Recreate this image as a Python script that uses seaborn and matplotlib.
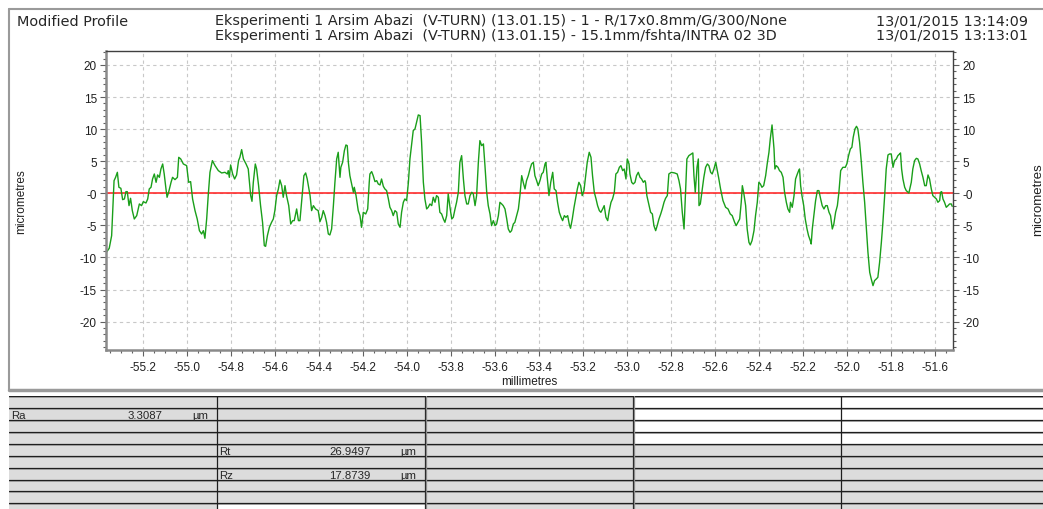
import numpy as np
import pandas as pd
import matplotlib
matplotlib.use("Agg")
import matplotlib.pyplot as plt
import seaborn as sns
from matplotlib.colors import ListedColormap
from matplotlib.lines import Line2D
from matplotlib.ticker import MultipleLocator

# profile: position (mm) and height (micrometres)
profile_mm = [
    -55.370, -55.355, -55.344, -55.333, -55.326, -55.318, -55.311, -55.302, -55.294, -55.286,
    -55.279, -55.273, -55.265, -55.258, -55.250, -55.241, -55.230, -55.218, -55.208, -55.200,
    -55.188, -55.180, -55.173, -55.165, -55.158, -55.150, -55.142, -55.135, -55.127, -55.120,
    -55.112, -55.105, -55.097, -55.092, -55.085, -55.074, -55.067, -55.056, -55.045, -55.039,
    -55.030, -55.018, -55.003, -54.994, -54.985, -54.976, -54.965, -54.955, -54.945, -54.935,
    -54.927, -54.920, -54.912, -54.905, -54.897, -54.886, -54.874, -54.859, -54.844, -54.829,
    -54.818, -54.814, -54.809, -54.803, -54.794, -54.785, -54.776, -54.767, -54.761, -54.753,
    -54.745, -54.733, -54.723, -54.712, -54.706, -54.700, -54.691, -54.685, -54.676, -54.667,
    -54.658, -54.650, -54.644, -54.636, -54.627, -54.617, -54.609, -54.602, -54.594, -54.586,
    -54.579, -54.571, -54.564, -54.556, -54.549, -54.539, -54.530, -54.521, -54.514, -54.503,
    -54.495, -54.488, -54.480, -54.470, -54.462, -54.455, -54.442, -54.435, -54.427, -54.417,
    -54.405, -54.397, -54.389, -54.382, -54.374, -54.367, -54.359, -54.352, -54.344, -54.336,
    -54.329, -54.321, -54.314, -54.306, -54.302, -54.294, -54.286, -54.279, -54.273, -54.268,
    -54.261, -54.253, -54.245, -54.241, -54.233, -54.223, -54.215, -54.208, -54.200, -54.189,
    -54.180, -54.173,
    -54.170, -54.162, -54.155, -54.147, -54.139, -54.132, -54.124, -54.117, -54.109, -54.102,
    -54.094, -54.086, -54.079, -54.071, -54.064, -54.056, -54.048, -54.041, -54.033, -54.026,
    -54.018, -54.011, -54.003, -53.995, -53.988, -53.980, -53.973, -53.965, -53.958, -53.950,
    -53.942, -53.935, -53.927, -53.920, -53.912, -53.905, -53.897, -53.889, -53.882, -53.874,
    -53.867, -53.859, -53.852, -53.844, -53.836, -53.829, -53.821, -53.814, -53.806, -53.798,
    -53.791, -53.783, -53.776, -53.768, -53.761, -53.753, -53.745, -53.738, -53.730, -53.723,
    -53.715, -53.707, -53.700, -53.692, -53.685, -53.677, -53.670, -53.662, -53.654, -53.647,
    -53.639, -53.632, -53.624, -53.617, -53.609, -53.601, -53.594, -53.586, -53.579, -53.571,
    -53.564, -53.556, -53.548, -53.541, -53.533, -53.526, -53.518, -53.511, -53.503, -53.495,
    -53.488, -53.480, -53.473, -53.465, -53.458, -53.450, -53.442, -53.435, -53.427, -53.420,
    -53.412, -53.405, -53.397, -53.389, -53.382, -53.374, -53.370, -53.364, -53.356, -53.348,
    -53.339, -53.332, -53.324, -53.317, -53.309, -53.301, -53.294, -53.286, -53.279, -53.271,
    -53.264, -53.258, -53.250, -53.242, -53.235, -53.227, -53.220, -53.212, -53.205, -53.197,
    -53.189, -53.182, -53.173, -53.165, -53.158, -53.150, -53.142, -53.135, -53.127, -53.120,
    -53.112, -53.105, -53.097, -53.089, -53.082, -53.074, -53.067, -53.059, -53.052, -53.044,
    -53.036, -53.029, -53.021, -53.014, -53.006, -53.000, -52.992, -52.988, -52.980, -52.973,
    -52.965, -52.958, -52.950, -52.942, -52.935, -52.927, -52.920,
    -52.917, -52.911, -52.901, -52.894, -52.886, -52.879, -52.871, -52.864, -52.856, -52.848,
    -52.841, -52.833, -52.826, -52.818, -52.811, -52.800, -52.785, -52.773, -52.765, -52.758,
    -52.750, -52.742, -52.736, -52.729, -52.720, -52.709, -52.702, -52.697, -52.691, -52.683,
    -52.677, -52.674, -52.668, -52.659, -52.652, -52.644, -52.636, -52.629, -52.621, -52.614,
    -52.606, -52.598, -52.592, -52.585, -52.576, -52.565, -52.553, -52.542, -52.532, -52.523,
    -52.512, -52.505, -52.497, -52.489, -52.482, -52.477, -52.471, -52.462, -52.455, -52.447,
    -52.441, -52.433, -52.424, -52.417, -52.409, -52.402, -52.395, -52.388, -52.380, -52.371,
    -52.364, -52.356, -52.350, -52.345, -52.342, -52.338, -52.333, -52.329, -52.323, -52.315,
    -52.308, -52.300, -52.292, -52.285, -52.277, -52.270, -52.262, -52.258, -52.250, -52.242,
    -52.235, -52.227, -52.221, -52.217, -52.212, -52.206, -52.198, -52.191, -52.183, -52.176,
    -52.168, -52.164, -52.159, -52.152, -52.144, -52.136, -52.129, -52.121, -52.114, -52.106,
    -52.098, -52.091, -52.083, -52.076, -52.068, -52.061, -52.053, -52.045, -52.038, -52.030,
    -52.020, -52.009, -52.002, -51.994, -51.986, -51.979, -51.973, -51.965, -51.958, -51.952,
    -51.944, -51.936, -51.929, -51.921, -51.914, -51.906, -51.898, -51.891, -51.883, -51.876,
    -51.868, -51.861, -51.853, -51.845, -51.838, -51.830, -51.823, -51.815, -51.808, -51.800,
    -51.792, -51.785, -51.777, -51.770, -51.762, -51.758, -51.753, -51.747, -51.739, -51.732,
    -51.720, -51.709, -51.702, -51.694, -51.686, -51.679, -51.671, -51.664, -51.656, -51.648,
    -51.641, -51.633, -51.626, -51.618, -51.611, -51.603, -51.595, -51.588, -51.580, -51.576,
    -51.571, -51.565, -51.558, -51.550, -51.542, -51.535, -51.527, -51.523,
]
profile_um = [
    -9.30, -8.57, -6.60, 1.97, 2.49, 3.27, 0.94, 0.78, -0.99, -0.88,
    0.26, 0.26, -1.92, -0.78, -2.70, -4.00, -3.48, -1.66, -1.92, -1.30,
    -1.51, -0.88, 0.68, 0.94, 2.23, 3.01, 1.71, 2.86, 2.49, 3.79,
    4.57, 3.01, 0.68, -0.62, 0.16, 1.71, 2.49, 2.13, 2.49, 5.61,
    5.35, 4.57, 4.31, 1.71, 1.82, -0.88, -2.70, -4.00, -5.82, -6.34,
    -5.82, -7.01, -4.00, -0.36, 3.27, 5.09, 4.31, 3.53, 3.17, 3.27,
    3.01, 3.53, 2.49, 4.42, 3.01, 2.23, 2.86, 5.09, 5.61, 6.81,
    5.35, 4.57, 3.79, -0.36, -1.25, 1.71, 4.57, 3.79, 1.19, -1.92,
    -4.52, -8.16, -8.26, -6.60, -5.30, -4.52, -4.00, -2.70, -0.36, 0.68,
    2.08, 1.19, -0.62, 1.19, -0.36, -1.92, -4.78, -4.26, -4.26, -2.44,
    -4.26, -4.26, -1.14, 2.75, 3.17, 2.23, -0.36, -2.70, -1.92, -2.44,
    -2.70, -4.42, -3.74, -2.70, -3.48, -4.52, -6.34, -6.49, -5.56, -1.92,
    1.71, 5.35, 6.39, 2.49, 4.05, 4.83, 6.65, 7.53, 7.43, 4.83,
    2.75, 1.45, 0.16, 0.94, -0.36, -2.70, -3.48, -5.30, -2.96, -3.22,
    -2.44, 1.71,
    3.01, 3.38, 2.75, 1.82, 1.97, 1.45, 1.30, 2.23, 1.09, 0.68,
    0.42, -0.88, -2.18, -2.70, -3.48, -2.70, -2.96, -4.78, -5.30, -2.96,
    -1.40, -0.88, -1.14, 1.71, 5.35, 7.69, 9.77, 10.03, 11.06, 12.21,
    12.10, 7.95, 1.71, -0.88, -2.44, -2.18, -1.66, -1.92, -0.62, -1.40,
    -0.36, -0.62, -2.96, -3.22, -4.00, -4.52, -3.48, -0.10, -2.18, -4.00,
    -3.74, -2.44, -1.40, 0.16, 4.83, 5.87, 2.23, -0.36, -1.66, -1.66,
    -0.36, 0.16, -0.10, -1.92, -0.36, 4.83, 8.21, 7.43, 7.69, 4.31,
    0.16, -1.92, -3.22, -5.04, -4.26, -5.04, -4.78, -3.48, -1.40, -1.66,
    -1.92, -2.44, -4.00, -5.56, -6.08, -5.82, -4.78, -4.52, -3.48, -2.44,
    -0.36, 2.75, 1.71, 0.68, 1.97, 2.75, 3.79, 4.57, 4.83, 2.75,
    1.97, 1.19, 1.97, 3.01, 3.27, 4.57, 4.83, 2.49, -0.36, 1.71,
    3.27, 0.68, 0.42, -1.40, -2.96, -3.74, -4.26, -3.48, -3.74, -3.48,
    -4.78, -5.45, -4.00, -2.18, -0.88, 0.68, 1.71, 1.19, -0.36, 0.42,
    2.75, 4.83, 6.39, 5.61, 2.75, 0.16, -0.88, -1.92, -2.70, -2.96,
    -2.44, -1.92, -3.74, -4.26, -2.70, -1.40, -0.88, 0.16, 3.01, 3.27,
    4.05, 4.31, 3.53, 3.79, 2.23, 5.35, 4.57, 3.01, 1.71, 1.45,
    1.71, 2.75, 3.27, 2.49, 2.23, 1.71, 1.97,
    1.71, -0.36, -1.92, -2.96, -3.22, -5.04, -5.82, -5.04, -4.00, -3.22,
    -2.44, -1.40, -0.78, -0.36, 3.01, 3.27, 3.17, 3.01, 1.97, 0.68,
    -2.96, -5.56, -0.36, 5.35, 5.87, 6.13, 6.29, 2.75, 0.16, 4.05,
    5.35, -1.92, -1.66, 0.68, 2.49, 4.05, 4.57, 4.31, 3.27, 3.01,
    3.79, 4.83, 3.79, 2.49, 0.68, -1.14, -2.18, -2.44, -3.22, -3.48,
    -4.52, -5.04, -4.52, -4.00, -1.40, 1.19, 0.16, -1.92, -5.56, -7.64,
    -8.05, -7.38, -5.82, -3.48, -1.40, 1.71, 1.45, 0.94, 1.19, 2.75,
    4.57, 6.39, 8.47, 9.77, 10.65, 8.99, 6.91, 3.79, 4.31, 4.05,
    3.53, 3.27, 2.49, 0.16, -1.40, -2.44, -2.96, -1.40, -2.18, -0.36,
    2.23, 3.01, 3.53, 3.79, 1.19, -0.36, -1.92, -4.00, -5.56, -6.60,
    -7.38, -7.90, -5.56, -3.48, -1.14, 0.42, 0.42, -0.88, -1.92, -2.44,
    -1.92, -1.92, -2.96, -3.48, -5.56, -4.78, -2.96, -1.92, 0.16, 3.53,
    4.05, 4.05, 4.57, 5.87, 6.91, 7.17, 8.73, 10.03, 10.44, 10.03,
    7.95, 4.83, 1.71, -1.40, -5.04, -9.19, -12.31, -13.35, -14.39, -13.61,
    -13.35, -13.09, -10.75, -7.64, -4.52, -0.36, 3.79, 5.97, 6.13, 6.13,
    4.05, 5.09, 5.35, 5.87, 6.13, 6.29, 3.79, 2.23, 0.94, 0.42,
    0.05, 1.71, 3.79, 5.09, 5.45, 5.35, 4.57, 3.53, 2.49, 1.19,
    1.19, 2.86, 2.23, 0.68, -0.36, -0.62, -0.88, -1.40, -1.14, 0.16,
    0.26, -0.88, -1.40, -2.18, -1.92, -1.66, -1.66, -2.03,
]

x_range = (-55.371, -51.518)
y_range = (-24.37, 22.22)
y_tick_values = [20, 15, 10, 5, 0, -5, -10, -15, -20]
y_tick_labels = ["20", "15", "10", "5", "-0", "-5", "-10", "-15", "-20"]

header_title = "Modified Profile"
header_lines = [
    "Eksperimenti 1 Arsim Abazi  (V-TURN) (13.01.15) - 1 - R/17x0.8mm/G/300/None",
    "Eksperimenti 1 Arsim Abazi  (V-TURN) (13.01.15) - 15.1mm/fshta/INTRA 02 3D",
]
header_dates = ["13/01/2015 13:14:09", "13/01/2015 13:13:01"]

# results table
param_names = ["Ra", "Rt", "Rz"]
param_values = [3.3087, 26.9497, 17.8739]
param_cells = [(1, 0), (4, 1), (6, 1)]  # (row, column)
param_unit = "\u00b5m"
# 0 = grey cell, 1 = white cell
cell_shading = [
    [0, 0, 0, 1, 1],
    [0, 0, 0, 1, 1],
    [0, 0, 0, 1, 1],
    [0, 0, 0, 1, 1],
    [0, 0, 0, 0, 0],
    [0, 0, 0, 0, 0],
    [0, 0, 0, 0, 0],
    [0, 0, 0, 0, 0],
    [0, 0, 0, 0, 0],
    [0, 1, 0, 0, 0],
]

W, H = 1043, 510
sns.set_theme(style="white")
plt.rcParams["font.family"] = ["DejaVu Sans"]

fig = plt.figure(figsize=(W / 100, H / 100), dpi=100)


def fx(px):
    return px / W


def fy(py):
    return 1 - py / H


# outer panel frame
box = "#9a9a9a"
fig.add_artist(Line2D([fx(9), fx(9)], [fy(10), fy(391)], color=box, lw=1.5))
fig.add_artist(Line2D([fx(9), 1], [fy(10), fy(10)], color=box, lw=1.5))
fig.add_artist(Line2D([fx(9), 1], [fy(391), fy(391)], color=box, lw=2.5))

# header (two tight lines, like the instrument printout)
head_size = 10.4
fig.text(fx(17), fy(25.5), header_title, fontsize=head_size, va="baseline", ha="left")
for i, (line, date) in enumerate(zip(header_lines, header_dates)):
    yb = fy(25.5 + 14.2 * i)
    fig.text(fx(215), yb, line, fontsize=head_size, va="baseline", ha="left")
    fig.text(fx(876), yb, date, fontsize=head_size, va="baseline", ha="left")

# profile axes
ax = fig.add_axes([fx(105.7), fy(350.7), (953.3 - 105.7) / W, (350.7 - 51.7) / H])
df = pd.DataFrame({"mm": profile_mm, "um": profile_um})
sns.lineplot(data=df, x="mm", y="um", ax=ax, color="#1a9f1a", linewidth=1.0,
             estimator=None, sort=False)
ax.axhline(0, color="#ff1a1a", linewidth=1.1, zorder=1)

ax.set_xlim(*x_range)
ax.set_ylim(*y_range)
x_ticks = np.round(np.arange(-55.2, -51.55, 0.2), 1)
ax.set_xticks(x_ticks)
ax.set_xticklabels([f"{v:.1f}" for v in x_ticks])
ax.set_yticks(y_tick_values)
ax.set_yticklabels(y_tick_labels)
ax.xaxis.set_minor_locator(MultipleLocator(0.05))
ax.yaxis.set_minor_locator(MultipleLocator(1))

ax.grid(True, which="major", color="#c8c8c8", linestyle=(0, (3, 3)), linewidth=0.8)
ax.set_axisbelow(True)

ax.tick_params(axis="both", which="major", direction="out", length=4.3, width=0.8,
               color="#606060", labelsize=8.5, labelcolor="#202020",
               labelfontfamily="Liberation Sans")
ax.tick_params(axis="both", which="minor", direction="out", length=2.2, width=0.8,
               color="#606060")
ax.tick_params(axis="y", which="both", left=True, right=True, labelleft=True,
               labelright=True, pad=2)
ax.tick_params(axis="x", which="both", bottom=True, pad=4)

for side in ["left", "bottom"]:
    ax.spines[side].set_color("#8a8a8a")
    ax.spines[side].set_linewidth(1.8)
for side in ["top", "right"]:
    ax.spines[side].set_color("#404040")
    ax.spines[side].set_linewidth(1.0)

ax.set_xlabel("millimetres", fontsize=8.5, family="Liberation Sans", color="#202020")
ax.xaxis.set_label_coords(0.5, -0.085)
ax.set_ylabel("micrometres", fontsize=8.5, family="Liberation Sans", color="#202020")
ax.yaxis.set_label_coords(-0.093, 0.5)
fig.text(fx(1038), fy(200), "micrometres", rotation=90, fontsize=9.5,
         family="Liberation Sans", color="#202020", ha="center", va="center")

# results table
row_h = 11.89
col_w = 208.0
n_rows, n_cols = len(cell_shading), len(cell_shading[0])
tab = fig.add_axes([fx(9), 0, (W - 9) / W, (H - 397.3) / H])
tab.pcolormesh(np.arange(n_cols + 1), np.arange(n_rows + 1), np.array(cell_shading),
               cmap=ListedColormap(["#dcdcdc", "#ffffff"]), vmin=0, vmax=1)
tab.set_xlim(0, (W - 9) / col_w)
tab.set_ylim((H - 397.3) / row_h, 0)
tab.axis("off")
for r in range(n_rows + 1):
    tab.axhline(r, color="#1e1e1e", lw=0.9)
    tab.axhline(r + 0.09, color="#9a9a9a", lw=0.7)
for c in range(1, n_cols):
    tab.axvline(c, color="#1e1e1e", lw=0.9)
    if c in (2, 3):
        tab.axvline(c + 0.005, color="#8a8a8a", lw=0.9)

for name, val, (r, c) in zip(param_names, param_values, param_cells):
    yc = r + 0.6
    tab.text(c + 0.012, yc, name, fontsize=8.2, family="Liberation Sans",
             ha="left", va="center")
    tab.text(c + 0.74, yc, f"{val:.4f}", fontsize=8.2, family="Liberation Sans",
             ha="right", va="center")
    tab.text(c + 0.882, yc, param_unit, fontsize=8.2, family="Liberation Sans",
             ha="left", va="center")

fig.savefig("out.png", dpi=100)
